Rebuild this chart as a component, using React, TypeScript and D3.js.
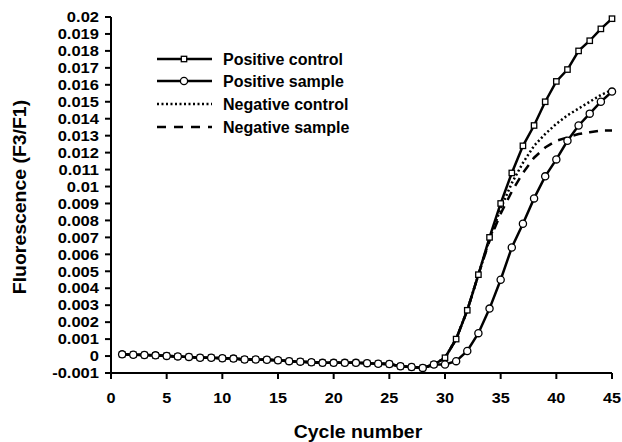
import React from "react";
import * as d3 from "d3";

const cycles: number[] = d3.range(1, 46);

const baseline: number[] = [
  0.0001, 0.00008, 0.00006, 0.00004, 0.00001, -0.00002, -0.00005, -0.0001, -0.0001, -0.00013,
  -0.00015, -0.0002, -0.0002, -0.00022, -0.00025, -0.0003, -0.00033, -0.00037, -0.0004, -0.0004,
  -0.0004, -0.0004, -0.00042, -0.00045, -0.00047, -0.0006, -0.00065, -0.0007, -0.0005,
];

const positiveControl: number[] = [
  ...baseline,
  -0.0001, 0.001, 0.0027, 0.0048, 0.007, 0.009, 0.0108, 0.0124, 0.0136, 0.015, 0.0162,
  0.0169, 0.018, 0.0186, 0.0193, 0.0199,
];

const positiveSample: number[] = [
  ...baseline,
  -0.0005, -0.0003, 0.0003, 0.00135, 0.0028, 0.0045, 0.0064, 0.0078, 0.0093, 0.0106, 0.0116,
  0.0127, 0.0136, 0.0143, 0.015, 0.0156,
];

const negativeControl: number[] = [
  ...baseline,
  -0.0001, 0.001, 0.0027, 0.0048, 0.0069, 0.0087, 0.0102, 0.0114, 0.0124, 0.0131, 0.0137,
  0.0142, 0.0146, 0.015, 0.0154, 0.0157,
];

const negativeSample: number[] = [
  ...baseline,
  -0.0001, 0.001, 0.0027, 0.0048, 0.0068, 0.0084, 0.0097, 0.0108, 0.0117, 0.0123, 0.0127,
  0.0129, 0.0131, 0.0132, 0.0133, 0.0133,
];

const yTicks: number[] = d3.range(-0.001, 0.02001, 0.001).map((v) => Math.round(v * 1000) / 1000);
const yTickLabels: string[] = yTicks.map((v) => (v === 0 ? "0" : String(v)));
const xTicks: number[] = [0, 5, 10, 15, 20, 25, 30, 35, 40, 45];

const legendLabels: string[] = ["Positive control", "Positive sample", "Negative control", "Negative sample"];

const FONT = "'Liberation Sans', Arial, Helvetica, sans-serif";

export default function App() {
  const W = 622;
  const H = 442;
  const x = d3.scaleLinear().domain([0, 45]).range([111, 612]);
  const y = d3.scaleLinear().domain([-0.001, 0.02]).range([373, 17]);

  const line = d3
    .line<number>()
    .x((_, i) => x(cycles[i]))
    .y((d) => y(d));

  const legendY = [59, 81, 104, 127];

  return (
    <svg
      width={W}
      height={H}
      style={{ position: "absolute", left: 0, top: 0, background: "#fff" }}
      fontFamily={FONT}
    >
      <rect width={W} height={H} fill="#fff" />
      {/* axes */}
      <line x1={x(0)} x2={x(0)} y1={y(0.02)} y2={y(-0.001)} stroke="#000" strokeWidth={2} />
      <line x1={x(0)} x2={x(45)} y1={y(-0.001)} y2={y(-0.001)} stroke="#000" strokeWidth={2} />
      {yTicks.map((t, i) => (
        <g key={"y" + i}>
          <line x1={x(0) - 6} x2={x(0)} y1={y(t)} y2={y(t)} stroke="#000" strokeWidth={2} />
          <text
            transform={`translate(${x(0) - 12},${y(t)}) scale(1.14,1)`}
            dy="0.36em"
            textAnchor="end"
            fontSize={14.5}
            fontWeight="bold"
          >
            {yTickLabels[i]}
          </text>
        </g>
      ))}
      {xTicks.map((t) => (
        <g key={"x" + t}>
          <line x1={x(t)} x2={x(t)} y1={y(-0.001)} y2={y(-0.001) + 6} stroke="#000" strokeWidth={2} />
          <text
            transform={`translate(${x(t)},403) scale(1.12,1)`}
            textAnchor="middle"
            fontSize={14.5}
            fontWeight="bold"
          >
            {t}
          </text>
        </g>
      ))}
      <text
        transform="translate(358,438) scale(1.08,1)"
        textAnchor="middle"
        fontSize={18}
        fontWeight="bold"
      >
        Cycle number
      </text>
      <text
        transform={`translate(26,197) rotate(-90) scale(1.08,1)`}
        textAnchor="middle"
        fontSize={18}
        fontWeight="bold"
      >
        Fluorescence (F3/F1)
      </text>

      {/* series */}
      <path d={line(negativeSample) || ""} fill="none" stroke="#000" strokeWidth={2.5} strokeDasharray="9,7" />
      <path d={line(negativeControl) || ""} fill="none" stroke="#000" strokeWidth={2.5} strokeDasharray="2,2.5" />
      <path d={line(positiveControl) || ""} fill="none" stroke="#000" strokeWidth={2.5} />
      {positiveControl.map((v, i) => (
        <rect
          key={"pc" + i}
          x={x(cycles[i]) - 2.7}
          y={y(v) - 2.7}
          width={5.4}
          height={5.4}
          fill="#fff"
          stroke="#000"
          strokeWidth={1.3}
        />
      ))}
      <path d={line(positiveSample) || ""} fill="none" stroke="#000" strokeWidth={2.5} />
      {positiveSample.map((v, i) => (
        <circle
          key={"ps" + i}
          cx={x(cycles[i])}
          cy={y(v)}
          r={3.6}
          fill="#fff"
          stroke="#000"
          strokeWidth={1.3}
        />
      ))}

      {/* legend */}
      {legendLabels.map((lab, i) => (
        <g key={"lg" + i}>
          <line
            x1={157}
            x2={212}
            y1={legendY[i]}
            y2={legendY[i]}
            stroke="#000"
            strokeWidth={2.5}
            strokeDasharray={i === 2 ? "2,2.5" : i === 3 ? "9,8" : undefined}
          />
          {i === 0 && (
            <rect x={181.3} y={legendY[i] - 2.7} width={5.4} height={5.4} fill="#fff" stroke="#000" strokeWidth={1.3} />
          )}
          {i === 1 && <circle cx={184} cy={legendY[i]} r={3.6} fill="#fff" stroke="#000" strokeWidth={1.3} />}
          <text x={223} y={legendY[i]} dy="0.36em" fontSize={16} fontWeight="bold">
            {lab}
          </text>
        </g>
      ))}
    </svg>
  );
}
